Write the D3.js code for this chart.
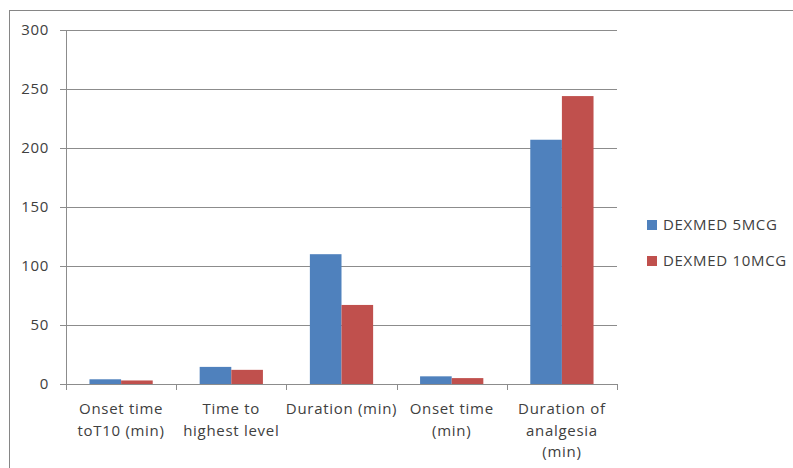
<!DOCTYPE html>
<html>
<head>
<meta charset="utf-8">
<script src="https://cdn.jsdelivr.net/npm/d3@7"></script>
<style>
  html, body { margin: 0; padding: 0; background: #fff; }
  svg { display: block; }
  text { font-family: "Open Sans", "Liberation Sans", Arial, sans-serif; fill: #404040; letter-spacing: 0.7px; }
</style>
</head>
<body>
<svg id="chart" width="793" height="468"></svg>
<script>
// Category labels (line breaks marked with \n)
const categories = [
  "Onset time\ntoT10 (min)",
  "Time to\nhighest level",
  "Duration (min)",
  "Onset time\n(min)",
  "Duration of\nanalgesia\n(min)"
];
const seriesNames = ["DEXMED 5MCG", "DEXMED 10MCG"];
const dexmed5 = [4, 14.5, 110, 6.5, 207];
const dexmed10 = [3, 12, 67, 5, 244];
const yTicks = [0, 50, 100, 150, 200, 250, 300];
const colors = ["#4F81BD", "#C0504D"];

const svg = d3.select("#chart");
const W = 793, H = 468;
const FONT = "'Open Sans', 'Liberation Sans', Arial, sans-serif";

// Outer chart frame
svg.append("rect")
  .attr("x", 9.5).attr("y", 10.5)
  .attr("width", W + 10).attr("height", H + 10)
  .attr("fill", "none").attr("stroke", "#868686").attr("stroke-width", 1);

const plot = { left: 66, right: 617, top: 30, bottom: 384 };

const x = d3.scaleBand()
  .domain(categories)
  .range([plot.left, plot.right])
  .paddingInner(0)
  .paddingOuter(0);

const y = d3.scaleLinear()
  .domain([0, 300])
  .range([plot.bottom, plot.top]);

// Horizontal gridlines with outward ticks
const yAxis = d3.axisLeft(y)
  .tickValues(yTicks)
  .tickSize(-(plot.right - plot.left))
  .tickSizeOuter(0)
  .tickPadding(12);

const gy = svg.append("g")
  .attr("transform", `translate(${plot.left},0)`)
  .call(yAxis);
gy.select(".domain").remove();
gy.selectAll(".tick line")
  .attr("x1", -6)
  .attr("stroke", "#8c8c8c")
  .attr("stroke-width", 1)
  .attr("shape-rendering", "crispEdges");
gy.selectAll(".tick text")
  .attr("x", -17)
  .style("font-size", "15px")
  .style("font-family", FONT)
  .attr("fill", "#404040");

// Vertical axis line
svg.append("line")
  .attr("x1", plot.left + 0.5).attr("x2", plot.left + 0.5)
  .attr("y1", plot.top).attr("y2", plot.bottom)
  .attr("stroke", "#8c8c8c").attr("shape-rendering", "crispEdges");

// Bars
const groupPad = 0.213;
const inner = d3.scaleBand()
  .domain([0, 1])
  .range([x.bandwidth() * groupPad, x.bandwidth() * (1 - groupPad)]);

const series = [dexmed5, dexmed10];
series.forEach((vals, si) => {
  svg.append("g").selectAll("rect")
    .data(vals)
    .join("rect")
    .attr("x", (d, i) => x(categories[i]) + inner(si))
    .attr("width", inner.bandwidth())
    .attr("y", d => y(d))
    .attr("height", d => y(0) - y(d))
    .attr("fill", colors[si]);
});

// Category axis along the bottom
const xAxis = d3.axisBottom(x).tickSize(0).tickFormat("");
const gx = svg.append("g")
  .attr("transform", `translate(0,${plot.bottom})`)
  .call(xAxis);
gx.select(".domain").remove();
svg.append("line")
  .attr("x1", plot.left).attr("x2", plot.right)
  .attr("y1", plot.bottom + 0.5).attr("y2", plot.bottom + 0.5)
  .attr("stroke", "#8c8c8c").attr("shape-rendering", "crispEdges");

// Tick marks at band boundaries
const boundaries = categories.map(c => x(c)).concat([plot.right]);
svg.append("g").selectAll("line")
  .data(boundaries)
  .join("line")
  .attr("x1", d => Math.round(d) + 0.5).attr("x2", d => Math.round(d) + 0.5)
  .attr("y1", plot.bottom).attr("y2", plot.bottom + 6)
  .attr("stroke", "#8c8c8c");

// Multi-line category labels
const labels = svg.append("g");
categories.forEach(c => {
  const lines = c.split("\n");
  const t = labels.append("text")
    .attr("text-anchor", "middle")
    .style("font-size", "15px");
  lines.forEach((ln, li) => {
    t.append("tspan")
      .attr("x", x(c) + x.bandwidth() / 2)
      .attr("y", 414 + li * 21.5)
      .text(ln);
  });
});

// Legend
const legend = svg.append("g");
seriesNames.forEach((name, i) => {
  const cy = 225 + i * 36;
  legend.append("rect")
    .attr("x", 647).attr("y", cy - 5)
    .attr("width", 10).attr("height", 10)
    .attr("fill", colors[i]);
  legend.append("text")
    .attr("x", 663).attr("y", cy + 5)
    .style("font-size", "15px")
    .text(name);
});
</script>
</body>
</html>
